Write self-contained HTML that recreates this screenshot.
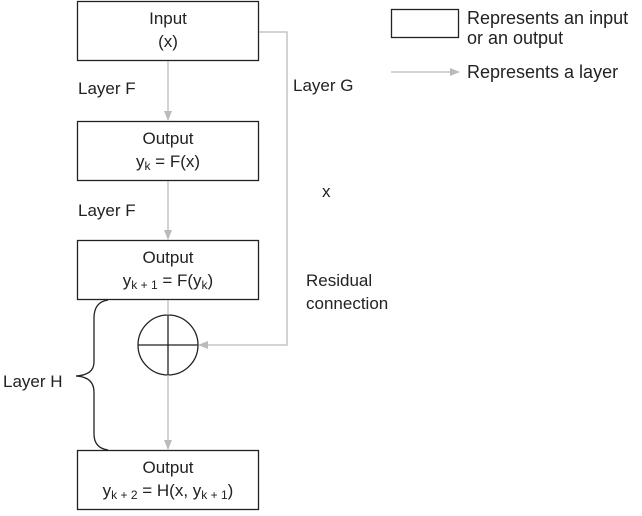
<!DOCTYPE html>
<html><head><style>body{margin:0;background:#fff}</style></head><body>
<svg width="642" height="511" viewBox="0 0 642 511" xmlns="http://www.w3.org/2000/svg" font-family="Liberation Sans, Arial, sans-serif" font-size="17" fill="#222">
<defs><marker id="a" markerWidth="10" markerHeight="8" refX="9" refY="4" orient="auto" markerUnits="userSpaceOnUse"><path d="M0,0 L10,4 L0,8z" fill="#bbb"/></marker></defs>
<g fill="none" stroke="#222" stroke-width="1.3">
<rect x="77.5" y="1.5" width="181" height="59"/>
<rect x="77.5" y="121.5" width="181" height="59"/>
<rect x="77.5" y="240.5" width="181" height="59"/>
<rect x="77.5" y="450.5" width="181" height="59"/>
<rect x="391.5" y="9.5" width="67" height="28"/>
<circle cx="168" cy="345" r="30"/>
<line x1="138" y1="345" x2="198" y2="345"/>
<line x1="168" y1="315" x2="168" y2="375"/>
<path d="M108,300 Q94,302 94,318 L94,362 Q94,375 76,376 Q94,377 94,392 L94,434 Q94,448 108,450"/>
</g>
<g stroke="#bbb" stroke-width="1.3" fill="none">
<line x1="168" y1="61" x2="168" y2="120" marker-end="url(#a)"/>
<line x1="168" y1="181" x2="168" y2="239" marker-end="url(#a)"/>
<line x1="168" y1="375" x2="168" y2="449" marker-end="url(#a)"/>
<line x1="168" y1="300" x2="168" y2="315"/>
<polyline points="259,32 287,32 287,345 199,345" marker-end="url(#a)"/>
<line x1="391" y1="72" x2="459" y2="72" marker-end="url(#a)"/>
</g>
<g text-anchor="middle">
<text x="168" y="24">Input</text><text x="168" y="47">(x)</text>
<text x="168" y="144">Output</text><text x="168" y="167">y<tspan font-size="12" dy="3">k</tspan><tspan dy="-3"> = F(x)</tspan></text>
<text x="168" y="263">Output</text><text x="168" y="286">y<tspan font-size="12" dy="3">k + 1</tspan><tspan dy="-3"> = F(y</tspan><tspan font-size="12" dy="3">k</tspan><tspan dy="-3">)</tspan></text>
<text x="168" y="473">Output</text><text x="168" y="496">y<tspan font-size="12" dy="3">k + 2</tspan><tspan dy="-3"> = H(x, y</tspan><tspan font-size="12" dy="3">k + 1</tspan><tspan dy="-3">)</tspan></text>
</g>
<text x="78" y="94">Layer F</text>
<text x="78" y="216">Layer F</text>
<text x="293" y="91">Layer G</text>
<text x="322" y="197">x</text>
<text x="306" y="286">Residual</text>
<text x="306" y="309">connection</text>
<text x="3" y="387">Layer H</text>
<g font-size="18">
<text x="467" y="24">Represents an input</text>
<text x="467" y="44">or an output</text>
<text x="467" y="78">Represents a layer</text>
</g>
</svg>
</body></html>
